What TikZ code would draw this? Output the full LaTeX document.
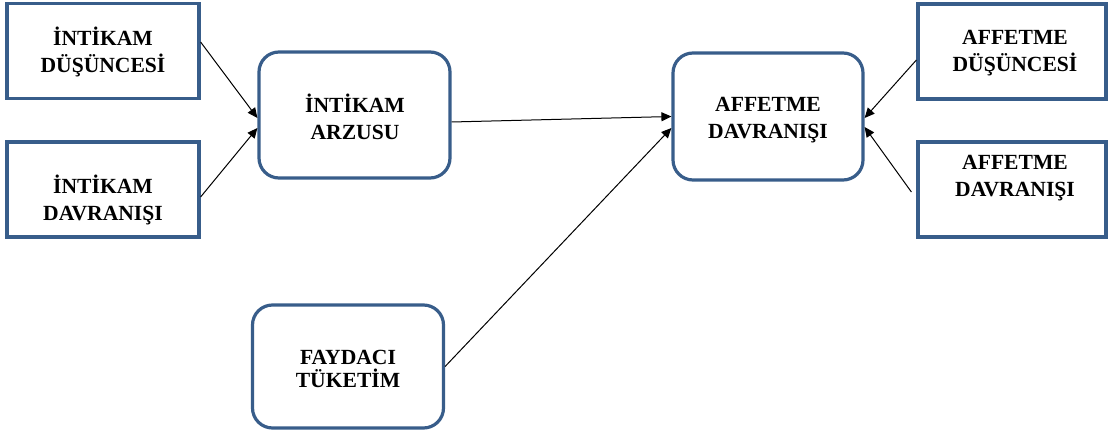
\documentclass[tikz,border=0pt]{standalone}
\usepackage{fontspec}
\setmainfont{Liberation Serif}
\usepackage{xcolor}
\usetikzlibrary{shapes,arrows.meta,positioning,calc}
\definecolor{boxblue}{RGB}{56,93,138}

\begin{document}
\begin{tikzpicture}[x=0.5pt,y=-0.5pt,
  sqbox/.style={rectangle,draw=boxblue,line width=1.6pt,fill=white,minimum width=96pt,minimum height=47.5pt},
  rndbox/.style={rectangle,rounded corners=10pt,draw=boxblue,line width=1.6pt,fill=white,minimum width=95.5pt,minimum height=63pt},
  lbl/.style={align=center,font=\fontsize{10.8}{13.5}\selectfont\bfseries,inner sep=0pt},
  link/.style={draw=black,line width=0.5pt,-{Triangle[length=5pt,width=4.5pt]}}]

  \useasboundingbox (0,0) rectangle (1108,438);

  % boxes
  \node[sqbox] (intdus) at (103,51) {};
  \node[sqbox] (intdav) at (103,189.5) {};
  \node[rndbox] (arzu) at (354.5,115) {};
  \node[rndbox,minimum height=61.5pt] (fayda) at (348,366.5) {};
  \node[rndbox,minimum width=95pt,minimum height=63.5pt] (affdav) at (768,116.5) {};
  \node[sqbox,minimum width=94pt] (afdus) at (1012,51.5) {};
  \node[sqbox,minimum width=94pt] (afdav) at (1012,189.5) {};

  % texts
  \node[lbl] (intdust) at (103,52) {İNTİKAM\\DÜŞÜNCESİ};
  \node[lbl] (intdavt) at (103,200) {İNTİKAM\\DAVRANIŞI};
  \node[lbl] (arzut) at (355,117) {İNTİKAM\\ARZUSU};
  \node[lbl,font=\fontsize{10.8}{11.5}\selectfont\bfseries] (faydat) at (348,369) {FAYDACI\\TÜKETİM};
  \node[lbl] (affdavt) at (768,120) {AFFETME\\DAVRANIŞI};
  \node[lbl] (afdust) at (1015,53) {AFFETME\\DÜŞÜNCESİ};
  \node[lbl] (afdavt) at (1015,178) {AFFETME\\DAVRANIŞI};

  % arrows
  \draw[link] ([yshift=4.5pt]intdus.east) -- ([yshift=-1.5pt]arzu.west);
  \draw[link] ([yshift=-3.75pt]intdav.east) -- ([yshift=-6.5pt]arzu.west);
  \draw[link] ([yshift=-3.5pt]arzu.east) -- (affdav.west);
  \draw[link] (fayda.east) -- ([yshift=-5.75pt]affdav.west);
  \draw[link] ([yshift=-4.25pt]afdus.west) -- ([yshift=-0.75pt]affdav.east);
  \draw[link] ([xshift=-2.5pt,yshift=-1.25pt]afdav.west) -- ([yshift=-5.25pt]affdav.east);

\end{tikzpicture}
\end{document}
